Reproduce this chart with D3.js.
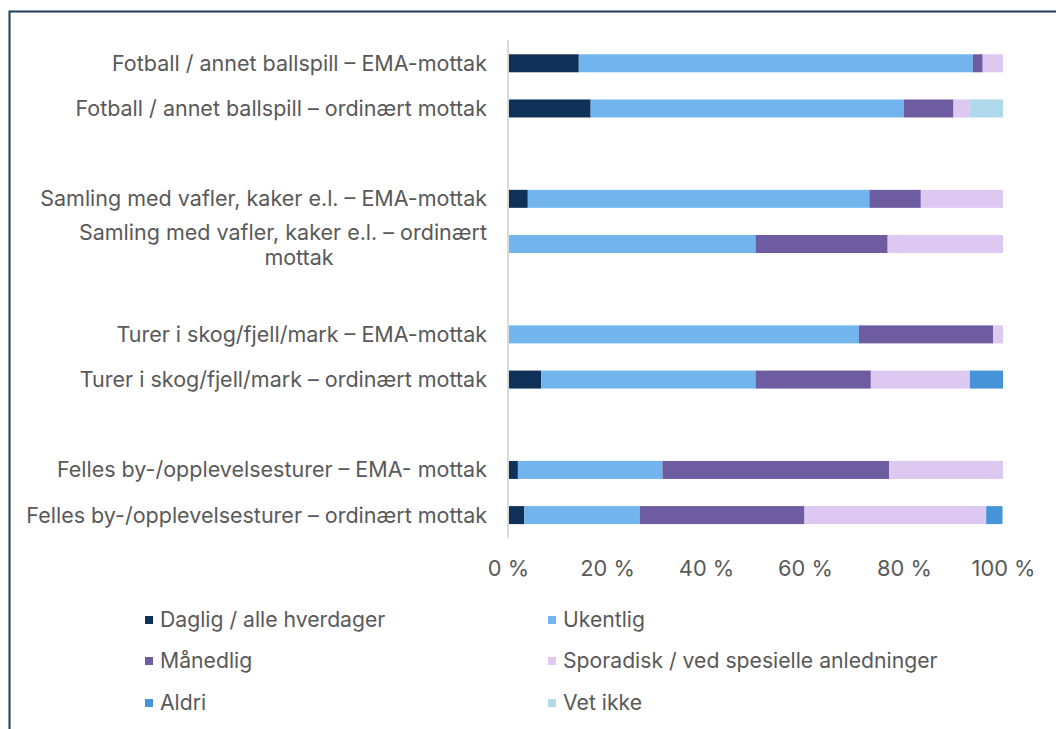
<!DOCTYPE html>
<html>
<head>
<meta charset="utf-8">
<script src="https://cdn.jsdelivr.net/npm/d3@7"></script>
<style>
  body { margin: 0; background: #fff; }
  svg text { font-family: Inter, "Noto Sans", sans-serif; fill: #595959; }
</style>
</head>
<body>
<div id="chart"></div>
<script>
// categories, top to bottom; "gap" rows are the empty slots between groups
var categories = [
  "Fotball / annet ballspill – EMA-mottak",
  "Fotball / annet ballspill – ordinært mottak",
  "gap1",
  "Samling med vafler, kaker e.l. – EMA-mottak",
  "Samling med vafler, kaker e.l. – ordinært mottak",
  "gap2",
  "Turer i skog/fjell/mark – EMA-mottak",
  "Turer i skog/fjell/mark – ordinært mottak",
  "gap3",
  "Felles by-/opplevelsesturer – EMA- mottak",
  "Felles by-/opplevelsesturer – ordinært mottak"
];

var seriesNames = ["Daglig / alle hverdager", "Ukentlig", "Månedlig",
  "Sporadisk / ved spesielle anledninger", "Aldri", "Vet ikke"];

var seriesColors = ["#0f3057", "#72b5ee", "#6e5ca0", "#dcc8f1", "#4793d7", "#b0d9eb"];

// percentages per series, in the order of the bar categories (gaps skipped)
var daglig    = [14.3, 16.7, 4.0, 0,    0,    6.7,  2.0,  3.3];
var ukentlig  = [79.6, 63.3, 69.0, 50.0, 70.9, 43.3, 29.2, 23.3];
var manedlig  = [2.0,  10.0, 10.4, 26.7, 27.1, 23.3, 45.8, 33.3];
var sporadisk = [4.1,  3.3,  16.6, 23.3, 2.0,  20.0, 23.0, 36.7];
var aldri     = [0,    0,    0,    0,    0,    6.7,  0,    3.3];
var vetIkke   = [0,    6.7,  0,    0,    0,    0,    0,    0];

var tickValues = [0, 20, 40, 60, 80, 100];

(function () {
  var width = 1056, height = 729;

  var svg = d3.select("#chart").append("svg")
    .attr("width", width)
    .attr("height", height);

  // frame
  svg.append("path")
    .attr("d", "M9.5,729 V11.5 H1056")
    .attr("fill", "none")
    .attr("stroke", "#1f3a60")
    .attr("stroke-width", 2);

  var barCats = categories.filter(function (c) { return c.indexOf("gap") !== 0; });
  var allSeries = [daglig, ukentlig, manedlig, sporadisk, aldri, vetIkke];

  var rows = barCats.map(function (c, i) {
    var r = { cat: c };
    seriesNames.forEach(function (s, j) { r[s] = allSeries[j][i]; });
    return r;
  });

  var x = d3.scaleLinear().domain([0, 100]).range([508, 1003]);
  var y = d3.scaleBand().domain(categories).range([40.7, 537.7]).paddingInner(0.6).paddingOuter(0.3);

  var stack = d3.stack().keys(seriesNames)(rows);

  svg.append("g").selectAll("g")
    .data(stack)
    .enter().append("g")
    .attr("fill", function (d, i) { return seriesColors[i]; })
    .selectAll("rect")
    .data(function (d) { return d; })
    .enter().append("rect")
    .attr("x", function (d) { return x(d[0]); })
    .attr("width", function (d) { return Math.max(0, x(d[1]) - x(d[0])); })
    .attr("y", function (d) { return y(d.data.cat) + y.bandwidth() / 2 - 9; })
    .attr("height", 18);

  // vertical axis line
  svg.append("line")
    .attr("x1", 508).attr("x2", 508)
    .attr("y1", 40).attr("y2", 538)
    .attr("stroke", "#d9d9d9")
    .attr("stroke-width", 2);

  // category labels
  var labels = svg.append("g").attr("text-anchor", "end").style("font-size", "21.5px");
  barCats.forEach(function (c) {
    var cy = y(c) + y.bandwidth() / 2;
    if (c === "Samling med vafler, kaker e.l. – ordinært mottak") {
      labels.append("text").attr("x", 487).attr("y", cy - 12).attr("dy", "0.35em")
        .text("Samling med vafler, kaker e.l. – ordinært");
      labels.append("text").attr("x", 299).attr("y", cy + 13).attr("dy", "0.35em")
        .attr("text-anchor", "middle").text("mottak");
    } else {
      labels.append("text").attr("x", 487).attr("y", cy).attr("dy", "0.35em").text(c);
    }
  });

  // x axis ticks
  var xAxis = d3.axisBottom(x).tickValues(tickValues)
    .tickFormat(function (d) { return d + " %"; })
    .tickSize(0).tickPadding(0);
  var ax = svg.append("g").attr("transform", "translate(0,561)").call(xAxis);
  ax.select(".domain").remove();
  ax.selectAll("text").style("font-size", "21.8px").style("font-family", null).attr("fill", "#595959");

  // legend
  var legX = [145, 548], legY = [620, 661, 703];
  var leg = svg.append("g").selectAll("g")
    .data(seriesNames)
    .enter().append("g")
    .attr("transform", function (d, i) {
      return "translate(" + legX[i % 2] + "," + legY[Math.floor(i / 2)] + ")";
    });
  leg.append("rect").attr("x", 0).attr("y", -4).attr("width", 8).attr("height", 8)
    .attr("fill", function (d, i) { return seriesColors[i]; });
  leg.append("text").attr("x", 15).attr("dy", "0.35em").style("font-size", "21.2px").text(function (d) { return d; });
})();
</script>
</body>
</html>
